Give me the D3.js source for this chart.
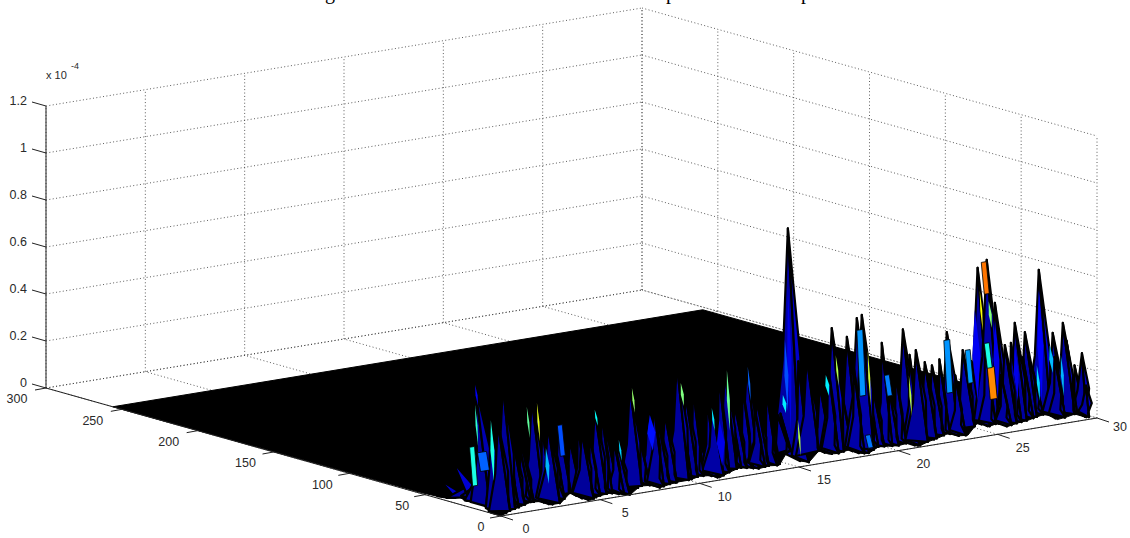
<!DOCTYPE html>
<html>
<head>
<meta charset="utf-8">
<style>
  html, body { margin: 0; background: #fff; }
  svg { display: block; }
  text { font-family: "Liberation Sans", Arial, sans-serif; fill: #2a2a2a; }
</style>
<script src="https://cdn.jsdelivr.net/npm/d3@7"></script>
</head>
<body>
<svg id="chart" width="1130" height="538"></svg>
<script>
// axis ticks, z is in units of 1e-4
const xTicks = [0, 5, 10, 15, 20, 25, 30]
const yTicks = [0, 50, 100, 150, 200, 250, 300]
const zTicks = [0, 0.2, 0.4, 0.6, 0.8, 1, 1.2]
const zTickLabels = ["0", "0.2", "0.4", "0.6", "0.8", "1", "1.2"]

// title is cut by the top of the image, only these descenders show
const titleGlyphs = ["g", "p", "p"]

// extent of the surface
const surfaceX = 29.7
const surfaceY = 256

// height of the y=0 row, one value every 0.5 along x
const frontZ = [
  0, .017, .026, .038, .034, .013, .013, .051, .021, .004,
  .017, .021, .009, 0, .03, .026, .009, .017, .021, .021,
  .03, .026, .009, .026, .038, .03, .021, .026, .021, .085,
  .026, .013, .055, .034, .03, .038, .017, .009, .03, .026,
  .021, .026, .004, .017, .026, .038, .021, .017, .064, .038,
  .047, .026, .034, .038, .047, .055, .021, .026, .034, .009
]
// height of the x=0 row
const sideY = [0, 7, 12, 18, 23, 27, 32, 38, 53, 256]
const sideZ = [0, 0, .026, .026, .021, .03, .017, .009, .004, 0]

// tall ridges
const peakX = [.33, .14, .27, .22, .26, .46, .71, 1.21, 1.66, 2.16, 2.42, 2.97, 3.52, 4.08, 4.68, 5.33, 5.94, 6.49, 7.1, 8,
  8.51, 8.86, 9.46, 9.91, 10.6, 11.22, 11.88, 12.38, 12.98, 13.49, 14.04, 14.54, 15.05, 16, 16.66, 17.26, 18.02, 18.52, 18.77, 19.3,
  20.03, 20.84, 21.49, 21.94, 22.3, 23.05, 23.85, 24.6, 25.06, 25.47, 25.97, 26.47, 26.98, 27.68, 28.38, 28.89, 29.47, 29.6]
const peakY = [36, 42, 24, 20, 10, 8, 8, 8, 8, 8, 8, 8, 8, 8, 8, 8, 8, 8, 8, 8,
  8, 8, 8, 8, 8, 8, 8, 8, 8, 8, 8, 8, 8, 8, 8, 8, 8, 8, 8, 8,
  8, 8, 8, 8, 8, 8, 8, 8, 8, 8, 8, 8, 8, 8, 8, 8, 3, 2]
const peakZ = [.16, .075, .276, .519, .387, .375, .533, .292, .264, .457, .433, .331, .332, .252, .278, .363, .26, .197, .444, .317,
  .276, .3, .505, .363, .161, .293, .433, .286, .439, .291, .177, .213, 1, .44, .31, .545, .497, .57, .58, .274,
  .306, .49, .393, .335, .317, .448, .36, .7, .727, .538, .352, .439, .393, .648, .37, .406, .278, .14]
const peakC = [.1, .09, .06, .05, .07, .04, .06, .06, .05, .06, .05, .07, .08, .04, .05, .09, .05, .04, .08, .1,
  .06, .09, .07, .04, .05, .1, .06, .08, .07, .05, .06, .08, .09, .08, .06, .1, .07, .12, .12, .06,
  .1, .09, .07, .05, .08, .12, .11, .09, .1, .1, .06, .09, .08, .11, .09, .1, .08, .09]

// low ridges in front of the tall ones
const lowX = [.9, 1.5, 2.6, 3.2, 3.8, 4.4, 5, 5.6, 6.2, 6.9, 7.5, 8.2, 8.8, 9.6, 10.2, 10.9, 11.5, 12.1, 12.7, 13.3, 13.9, 14.6,
  15.5, 16.3, 17, 17.7, 18.3, 19, 19.7, 20.4, 21.1, 21.8, 22.6, 23.4, 24.2, 24.9, 25.7, 26.2, 26.8, 27.3, 27.9, 28.4, 29, 29.4]
const lowZ = [.26, .25, .33, .27, .22, .31, .26, .35, .23, .29, .22, .36, .26, .31, .39, .33, .43, .27, .36, .26, .33, .22,
  .43, .29, .39, .26, .36, .27, .45, .31, .38, .27, .34, .26, .31, .36, .23, .36, .29, .23, .31, .27, .33, .22]
const lowC = [.07, .04, .08, .05, .09, .04, .07, .05, .08, .04, .09, .06, .1, .05, .08, .12, .07, .04, .1, .06, .08, .05,
  .1, .06, .09, .05, .11, .08, .1, .06, .09, .05, .08, .1, .07, .12, .09, .06, .1, .07, .11, .08, .1, .09]

// single bright facets: position, width along x, lower and upper height, colormap value
const facetX = [.22, .22, .07, .1, .45, 1.91, 2.42, 2.87, .11, 3.57, 5.33, 7.2, 9.66, 11.98, 11.22, 6.54, 13.03, 8.1, 11.6,
  15.05, 14.9, 14.8, 18.67, 19.07, 16.96, 17.46, 20.03, 21.14, 15.55, 19.07, 23.05, 24.1, 27.58, 28.23, 28.79,
  24.46, 27.68, 26.47, 25.47, 24.91, 24.71, 25.16, 25.06, 25.26]
const facetY = [20, 20, 20, 8, 8, 8, 8, 8, 14, 8, 8, 8, 8, 8, 8, 8, 8, 8, 8,
  8, 8, 8, 8, 8, 8, 8, 8, 8, 8, 8, 8, 8, 8, 8, 8,
  8, 8, 8, 8, 8, 8, 8, 8, 8]
const facetW = [.1, .1, .25, .2, .1, .1, .1, .2, .45, .25, .1, .1, .15, .15, .1, .1, .1, .4, .4,
  .22, .2, .2, .3, .1, .2, .1, .25, .1, .1, .25, .3, .25, .15, .2, .15,
  .4, .3, .25, .3, .25, .1, .15, .25, .35]
const facetLow = [.433, .263, .095, .137, .303, .295, .275, .086, .169, .195, .299, .328, .323, .185, .195, .133, .298, .154, .041,
  .142, .229, .222, .241, .193, .265, .3, .222, .121, .029, .014, .193, .22, .096, .205, .1,
  .139, .094, .111, .125, .588, .434, .44, .271, .136]
const facetHigh = [.519, .433, .257, .392, .375, .423, .433, .235, .245, .323, .363, .43, .417, .44, .289, .218, .439, .303, .232,
  .75, .527, .295, .518, .427, .35, .427, .307, .291, .178, .065, .414, .357, .245, .32, .27,
  .522, .56, .345, .466, .72, .6, .55, .373, .268]
const facetC = [.12, .42, .4, .4, .5, .47, .6, .3, .22, .2, .38, .52, .5, .48, .35, .33, .22, .14, .1,
  .1, .2, .36, .27, .58, .36, .55, .25, .56, .55, .24, .27, .28, .34, .31, .3,
  .11, .12, .1, .1, .76, .62, .5, .4, .74]

const width = 1130
const height = 538
const origin = {x: 501, y: 516}

const xAcross = d3.scaleLinear().domain([0, 30]).range([0, 596])
const xUp = d3.scaleLinear().domain([0, 30]).range([0, -98])
const yAcross = d3.scaleLinear().domain([0, 300]).range([0, -455])
const yUp = d3.scaleLinear().domain([0, 300]).range([0, -128])
const zUp = d3.scaleLinear().domain([0, 1.2]).range([0, -282])

const jet = d3.scaleLinear()
  .domain([0, .125, .375, .625, .875, 1])
  .range(["#00008f", "#0000ff", "#00ffff", "#ffff00", "#ff0000", "#800000"])

const frontAt = d3.scaleLinear().domain(d3.range(0, 30, .5)).range(frontZ).clamp(true)
const sideAt = d3.scaleLinear().domain(sideY).range(sideZ).clamp(true)
const ridgeWidth = d3.scaleSqrt().domain([0, 1]).range([.2, .72])
const yLabelShift = d3.scaleLinear().domain([0, 50, 100, 200]).range([-20, -23, -27, -29]).clamp(true)

const project = (x, y, z) => [
  origin.x + xAcross(x) + yAcross(y),
  origin.y + xUp(x) + yUp(y) + zUp(z)
]

const floorAt = (x, y) => {
  if (y < 1) { return frontAt(x) }
  if (x < .5) { return sideAt(y) }
  return y < 14 ? frontAt(x) + .012 : .01
}

const svg = d3.select("#chart")
const line = d3.line()

function drawGrid () {
  const grid = svg.append("g")
    .attr("fill", "none")
    .attr("stroke", "#333")
    .attr("stroke-width", .8)
    .attr("stroke-dasharray", "1,2.4")
  const segments = []
  xTicks.forEach(x => {
    segments.push([project(x, 300, 0), project(x, 300, 1.2)])
    segments.push([project(x, 0, 0), project(x, 300, 0)])
  })
  yTicks.forEach(y => {
    segments.push([project(30, y, 0), project(30, y, 1.2)])
    segments.push([project(0, y, 0), project(30, y, 0)])
  })
  zTicks.forEach(z => {
    segments.push([project(0, 300, z), project(30, 300, z)])
    segments.push([project(30, 300, z), project(30, 0, z)])
  })
  grid.selectAll("path").data(segments).enter().append("path").attr("d", line)
}

function drawAxes () {
  const axes = svg.append("g").attr("stroke", "#222").attr("stroke-width", 1).attr("fill", "none")
  const segments = [
    [project(0, 300, 0), project(0, 300, 1.2)],
    [project(0, 0, 0), project(30, 0, 0)],
    [project(0, 0, 0), project(0, 300, 0)]
  ]
  zTicks.forEach(z => {
    const p = project(0, 300, z)
    segments.push([p, [p[0] - 14, p[1] - 4]])
  })
  xTicks.forEach(x => {
    const p = project(x, 0, 0)
    segments.push([p, [p[0] + 12, p[1] + 4]])
  })
  yTicks.forEach(y => {
    const p = project(0, y, 0)
    segments.push([p, [p[0] - 11, p[1] + 2]])
  })
  axes.selectAll("path").data(segments).enter().append("path").attr("d", line)

  const labels = svg.append("g").attr("font-size", 12.5)
  labels.selectAll(".z-label").data(zTicks).enter().append("text")
    .attr("class", "z-label")
    .attr("x", d => project(0, 300, d)[0] - 19)
    .attr("y", d => project(0, 300, d)[1] - 4)
    .attr("text-anchor", "end")
    .attr("dominant-baseline", "middle")
    .text((d, i) => zTickLabels[i])
  labels.selectAll(".x-label").data(xTicks).enter().append("text")
    .attr("class", "x-label")
    .attr("x", d => project(d, 0, 0)[0] + (d === 30 ? 23 : 25))
    .attr("y", d => project(d, 0, 0)[1] + (d === 30 ? 10 : 14))
    .attr("text-anchor", "middle")
    .attr("dominant-baseline", "middle")
    .text(d => d)
  labels.selectAll(".y-label").data(yTicks).enter().append("text")
    .attr("class", "y-label")
    .attr("x", d => project(0, d, 0)[0] + yLabelShift(d))
    .attr("y", d => project(0, d, 0)[1] + 12)
    .attr("text-anchor", "middle")
    .attr("dominant-baseline", "middle")
    .text(d => d)

  const exponent = svg.append("g")
  exponent.append("text").attr("x", 46).attr("y", 79).attr("font-size", 11).text("x 10")
  exponent.append("text").attr("x", 71).attr("y", 69).attr("font-size", 9).text("-4")
}

function drawTitle () {
  svg.append("g").selectAll("text").data(titleGlyphs).enter().append("text")
    .attr("x", (d, i) => [325, 666, 801][i])
    .attr("y", -1.5)
    .attr("font-size", 20)
    .style("font-family", "'Liberation Serif', serif")
    .style("fill", "#000")
    .text(d => d)
}

function drawSurface () {
  const edge = []
  edge.push(project(0, surfaceY, 0), project(surfaceX, surfaceY, 0))
  d3.range(29.5, -.5, -.5).forEach(x => edge.push(project(x, 0, frontAt(x))))
  sideY.forEach(y => edge.push(project(0, y, sideAt(y))))
  svg.append("path")
    .attr("d", line(edge) + "Z")
    .attr("fill", "#000")
    .attr("stroke", "#000")
    .attr("stroke-width", 1)

  const items = []
  const addRidge = (x, y, z, c, narrow) => {
    const w = ridgeWidth(z) * narrow
    const x0 = Math.max(0, x - w)
    const x1 = Math.min(surfaceX, x + w)
    const footY = Math.max(0, y - 10)
    const apex = project(x, y, z)
    const foot = project(x, footY, floorAt(x, footY))
    const left = project(x0, y, floorAt(x0, y))
    const right = project(x1, y, floorAt(x1, y))
    // left and right sheet of the ridge, it leans because the apex sits further back than the foot
    const leftMid = project(x - w * .62, y * .7, z * .45)
    const rightMid = project(x + w * .62, y * .7, z * .45)
    items.push({depth: left[1], faces: [
      {points: [left, leftMid, apex, foot], color: jet(c * .25)},
      {points: [foot, apex, rightMid, right], color: jet(c * .75)}
    ], outline: true})
  }
  peakX.forEach((x, i) => addRidge(x, peakY[i], peakZ[i], peakC[i], 1))
  lowX.forEach((x, i) => addRidge(x, 7, lowZ[i], lowC[i], .62))

  facetX.forEach((x, i) => {
    const y = facetY[i]
    const w = facetW[i] / 2
    const lowerY = Math.max(0, y - 2)
    // dark or narrow facets end in a point, the light wide ones stay square
    const blunt = facetW[i] >= .25 && facetC[i] >= .2
    const middle = (facetLow[i] + facetHigh[i]) / 2
    const points = blunt ? [
      project(x - w, y, facetHigh[i]),
      project(x + w, y, facetHigh[i]),
      project(x + w, lowerY, facetLow[i]),
      project(x - w, lowerY, facetLow[i])
    ] : [
      project(x, y, facetHigh[i]),
      project(x + w, y - 1, middle),
      project(x, lowerY, facetLow[i]),
      project(x - w, y - 1, middle)
    ]
    items.push({depth: project(x, y, 0)[1] + .1, faces: [{points, color: jet(facetC[i]), edge: blunt ? .8 : 0}], outline: false})
  })

  items.sort((a, b) => a.depth - b.depth)

  const faces = d3.merge(items.map(d => d.faces.map(f => ({...f, outline: d.outline}))))
  svg.append("g").selectAll("path").data(faces).enter().append("path")
    .attr("d", d => line(d.points) + "Z")
    .attr("fill", d => d.color)
    .attr("stroke", "#000")
    .attr("stroke-width", d => d.outline ? 2.2 : d.edge)
    .attr("stroke-linejoin", "round")
}

drawGrid()
drawSurface()
drawAxes()
drawTitle()
</script>
</body>
</html>
